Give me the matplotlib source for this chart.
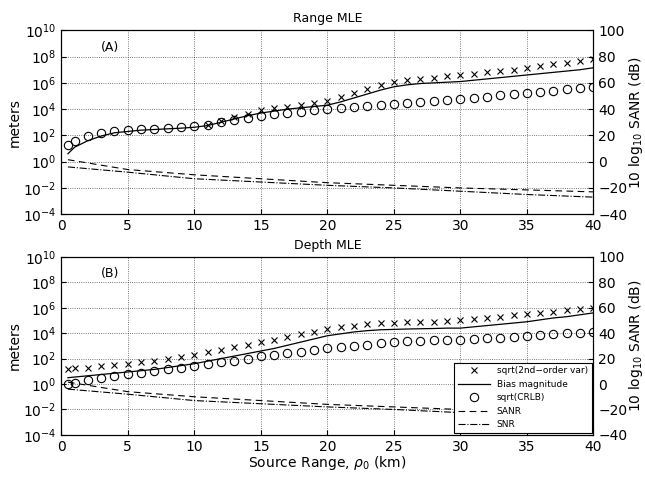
import numpy as np
import matplotlib
matplotlib.use("Agg")
import matplotlib.pyplot as plt

km = [0.5] + list(range(1, 41))

# (A) Range MLE, log10 meters
a_crlb = [1.3, 1.6, 1.95, 2.15, 2.3, 2.4, 2.45, 2.5, 2.55, 2.62, 2.7, 2.8, 3.0, 3.2, 3.35, 3.5, 3.6, 3.7, 3.8, 3.9, 4.0,
          4.08, 4.16, 4.24, 4.32, 4.4, 4.48, 4.56, 4.64, 4.72, 4.8, 4.88, 4.96, 5.04, 5.12, 5.2, 5.3, 5.4, 5.5, 5.6, 5.7]
a_var_km = list(range(11, 41))
a_var = [2.8, 3.1, 3.4, 3.65, 3.9, 4.05, 4.2, 4.35, 4.5, 4.65, 4.9, 5.2, 5.5, 5.8, 6.05, 6.2, 6.3, 6.4, 6.5, 6.6,
         6.7, 6.8, 6.9, 7.0, 7.1, 7.25, 7.4, 7.5, 7.65, 7.8]
a_bias = [0.6, 1.1, 1.6, 1.95, 2.2, 2.3, 2.4, 2.45, 2.5, 2.55, 2.62, 2.75, 3.0, 3.25, 3.5, 3.7, 3.85, 4.0, 4.1, 4.2, 4.3,
          4.55, 4.85, 5.15, 5.45, 5.7, 5.85, 5.95, 6.0, 6.05, 6.1, 6.2, 6.3, 6.4, 6.5, 6.6, 6.7, 6.8, 6.9, 7.0, 7.15]

# (B) Depth MLE, log10 meters
b_var = [1.2, 1.25, 1.3, 1.4, 1.5, 1.6, 1.7, 1.8, 1.95, 2.1, 2.3, 2.5, 2.7, 2.9, 3.1, 3.3, 3.5, 3.7, 3.9, 4.1, 4.3,
         4.45, 4.6, 4.7, 4.78, 4.82, 4.85, 4.87, 4.9, 4.95, 5.0, 5.1, 5.2, 5.3, 5.4, 5.5, 5.6, 5.7, 5.8, 5.9, 6.0]
b_bias = [0.5, 0.55, 0.65, 0.75, 0.85, 0.95, 1.05, 1.15, 1.3, 1.45, 1.6, 1.8, 2.0, 2.2, 2.4, 2.6, 2.8, 3.05, 3.3, 3.55, 3.8,
          3.95, 4.1, 4.2, 4.27, 4.3, 4.33, 4.35, 4.37, 4.4, 4.4, 4.5, 4.6, 4.7, 4.8, 4.9, 5.05, 5.2, 5.3, 5.45, 5.6]
b_crlb = [0.0, 0.1, 0.3, 0.5, 0.65, 0.8, 0.9, 1.0, 1.15, 1.3, 1.4, 1.55, 1.7, 1.85, 2.0, 2.2, 2.3, 2.45, 2.55, 2.7, 2.8,
          2.9, 3.0, 3.1, 3.2, 3.3, 3.35, 3.4, 3.45, 3.5, 3.5, 3.55, 3.6, 3.65, 3.7, 3.8, 3.85, 3.9, 4.0, 4.05, 4.1]

# dB curves
db_km = [0.5, 5, 10, 15, 20, 25, 30, 35, 40]
sanr = [1.5, -6, -10, -13, -16, -18, -20, -21.5, -23]
snr = [-4, -8, -13, -15.5, -18, -20, -22.5, -25, -27]

fig = plt.figure(figsize=(6.45, 4.97), dpi=100)
plt.rcParams["font.family"] = "DejaVu Sans"


def panel(rect, title, tag, var_km, var, bias, crlb, legend=False):
    ax = fig.add_axes(rect)
    ax.set_yscale("log")
    h1, = ax.plot(var_km, 10.0 ** np.array(var), "x", color="k", ms=4, mew=0.8)
    h2, = ax.plot(km, 10.0 ** np.array(bias), "-", color="k", lw=0.9)
    h3, = ax.plot(km, 10.0 ** np.array(crlb), "o", color="k", mfc="none", ms=6, mew=0.8)
    ax.set_xlim(0, 40)
    ax.set_ylim(1e-4, 1e10)
    ax.set_yticks([10.0 ** k for k in range(-4, 11, 2)])
    ax.minorticks_off()
    ax.set_xticks(range(0, 41, 5))
    ax.grid(True, ls=":", color="k", lw=0.6, alpha=0.7)
    ax.set_ylabel("meters", fontsize=10, labelpad=1)
    ax.set_title(title, fontsize=9)
    ax.text(3, 10 ** 8.4, tag, fontsize=9)
    ax.tick_params(labelsize=10, direction="in")
    ax2 = ax.twinx()
    h4, = ax2.plot(db_km, sanr, "--", color="k", lw=0.8, dashes=(6, 4))
    h5, = ax2.plot(db_km, snr, "-.", color="k", lw=0.8)
    ax2.set_ylim(-40, 100)
    ax2.set_yticks(range(-40, 101, 20))
    ax2.set_ylabel(r"10 log$_{10}$ SANR (dB)", fontsize=10, labelpad=0)
    ax2.tick_params(labelsize=10, direction="in")
    if legend:
        leg = ax2.legend([h1, h2, h3, h4, h5],
                         ["sqrt(2nd\u2212order var)", "Bias magnitude", "sqrt(CRLB)", "SANR", "SNR"],
                         loc="lower right", fontsize=6.5, fancybox=False, framealpha=1,
                         edgecolor="k", borderaxespad=0.2, handlelength=3.5)
        leg.get_frame().set_linewidth(0.8)
    return ax


panel([0.095, 0.569, 0.825, 0.37], "Range MLE", "(A)", a_var_km, a_var, a_bias, a_crlb)
axb = panel([0.095, 0.125, 0.825, 0.358], "Depth MLE", "(B)", km, b_var, b_bias, b_crlb, legend=True)
axb.set_xlabel(r"Source Range, $\rho_0$ (km)", fontsize=10, labelpad=0)

fig.savefig("out.png", dpi=100)
